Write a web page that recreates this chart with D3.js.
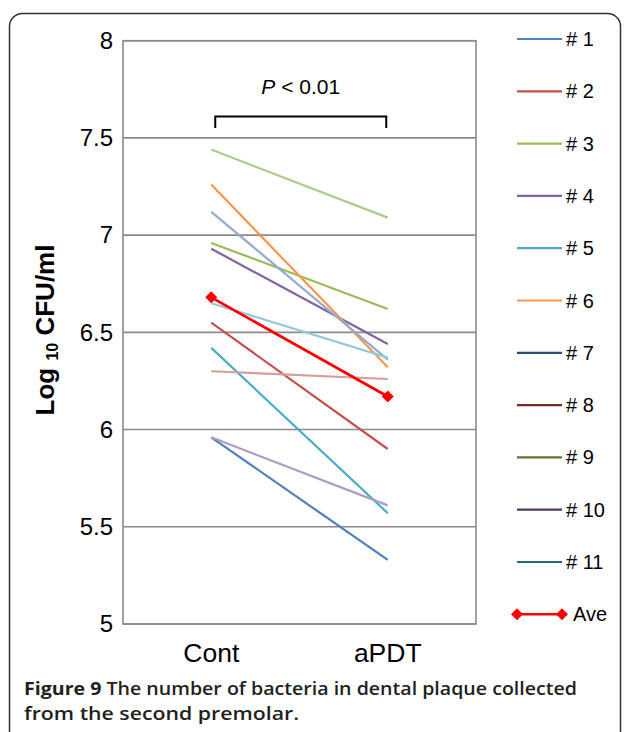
<!DOCTYPE html>
<html>
<head>
<meta charset="utf-8">
<script src="https://cdn.jsdelivr.net/npm/d3@7"></script>
<style>
  html, body { margin: 0; padding: 0; background: #fff; }
  svg { display: block; }
</style>
</head>
<body>
<svg id="chart" width="629" height="732"></svg>
<script>
// ---------- data ----------
const categories = ["Cont", "aPDT"];
const seriesNames = ["# 1", "# 2", "# 3", "# 4", "# 5", "# 6", "# 7", "# 8", "# 9", "# 10", "# 11"];
const contValues = [5.96, 6.55, 6.96, 6.93, 6.42, 7.26, 7.12, 6.30, 7.44, 5.96, 6.65];
const apdtValues = [5.33, 5.90, 6.62, 6.44, 5.57, 6.32, 6.36, 6.26, 7.09, 5.61, 6.37];
const aveName = "Ave";
const aveValues = [6.68, 6.17];
const yTicks = [5, 5.5, 6, 6.5, 7, 7.5, 8];
const yTickLabels = ["5", "5.5", "6", "6.5", "7", "7.5", "8"];
const lineColors = ["#4F81BD", "#C0504D", "#9BBB59", "#8064A2", "#4BACC6", "#F79646",
                    "#93ABD3", "#D79D9C", "#AECB8C", "#AA9EC3", "#93C9DB"];
const legendColors = ["#4F81BD", "#C0504D", "#9BBB59", "#8064A2", "#4BACC6", "#F79646",
                      "#2C4D75", "#772C2A", "#5F7530", "#4D3B62", "#276A7C"];
const aveColor = "#FF0000";
const pText = " < 0.01";
const captionBold = "Figure 9";
const captionLine1 = " The number of bacteria in dental plaque collected";
const captionLine2 = "from the second premolar.";

// ---------- layout ----------
const svg = d3.select("#chart");
const plot = { left: 123, right: 476, top: 40.7, bottom: 624 };
const x = d3.scaleBand().domain(categories).range([plot.left, plot.right]);
const xc = c => x(c) + x.bandwidth() / 2;
const y = d3.scaleLinear().domain([5, 8]).range([plot.bottom, plot.top]);
const FONT = "'Liberation Sans', Arial, sans-serif";

// outer rounded frame
svg.append("rect")
  .attr("x", 9.5).attr("y", 13.5)
  .attr("width", 611).attr("height", 740)
  .attr("rx", 13).attr("ry", 13)
  .attr("fill", "none").attr("stroke", "#333").attr("stroke-width", 1.5);

// gridlines
svg.append("g").selectAll("line").data(yTicks).join("line")
  .attr("x1", plot.left).attr("x2", plot.right)
  .attr("y1", d => y(d)).attr("y2", d => y(d))
  .attr("stroke", "#8a8a8a").attr("stroke-width", 1.6);
// plot border
svg.append("rect")
  .attr("x", plot.left).attr("y", y(8))
  .attr("width", plot.right - plot.left).attr("height", y(5) - y(8))
  .attr("fill", "none").attr("stroke", "#8a8a8a").attr("stroke-width", 1.6);

// y axis labels
const yAxis = d3.axisLeft(y).tickValues(yTicks)
  .tickFormat((d, i) => yTickLabels[i]).tickSize(0).tickPadding(10);
const gy = svg.append("g").attr("transform", `translate(${plot.left},0)`).call(yAxis);
gy.select(".domain").remove();
gy.selectAll("text").attr("font-family", FONT).attr("font-size", 24).attr("fill", "#000");

// x axis labels
const xAxis = d3.axisBottom(x).tickSize(0).tickPadding(19);
const gx = svg.append("g").attr("transform", `translate(0,${plot.bottom})`).call(xAxis);
gx.select(".domain").remove();
gx.selectAll("text").attr("font-family", FONT).attr("font-size", 26.5).attr("fill", "#000");

// y title
const yt = svg.append("text")
  .attr("transform", "translate(54,330) rotate(-90)")
  .attr("text-anchor", "middle")
  .attr("font-family", FONT).attr("font-weight", "bold").attr("font-size", 26);
yt.append("tspan").text("Log ");
yt.append("tspan").attr("font-size", 16).attr("dy", 4).text("10");
yt.append("tspan").attr("dy", -4).text(" CFU/ml");

// lines
const line = d3.line().x(d => xc(d.c)).y(d => y(d.v));
const series = seriesNames.map((n, i) => ({
  name: n, color: lineColors[i],
  pts: [{ c: categories[0], v: contValues[i] }, { c: categories[1], v: apdtValues[i] }]
}));
svg.append("g").selectAll("path").data(series).join("path")
  .attr("d", d => line(d.pts))
  .attr("fill", "none").attr("stroke", d => d.color).attr("stroke-width", 2.2);

const avePts = categories.map((c, i) => ({ c, v: aveValues[i] }));
svg.append("path").attr("d", line(avePts))
  .attr("fill", "none").attr("stroke", aveColor).attr("stroke-width", 2.8);
const diamond = d3.symbol().type(d3.symbolSquare).size(72);
svg.append("g").selectAll("path").data(avePts).join("path")
  .attr("d", diamond)
  .attr("transform", d => `translate(${xc(d.c)},${y(d.v)}) rotate(45)`)
  .attr("fill", aveColor);

// significance bracket
const bx1 = xc(categories[0]) + 4, bx2 = xc(categories[1]) - 1.5;
svg.append("path")
  .attr("d", `M${bx1},128 V116.5 H${bx2} V128`)
  .attr("fill", "none").attr("stroke", "#000").attr("stroke-width", 2);
const pt = svg.append("text")
  .attr("x", (bx1 + bx2) / 2).attr("y", 94)
  .attr("text-anchor", "middle")
  .attr("font-family", FONT).attr("font-size", 21);
pt.append("tspan").attr("font-style", "italic").text("P");
pt.append("tspan").text(pText);

// legend
const legY0 = 39, legStep = 52.3;
const leg = svg.append("g");
seriesNames.forEach((n, i) => {
  const yy = legY0 + i * legStep;
  leg.append("line").attr("x1", 517).attr("x2", 562).attr("y1", yy).attr("y2", yy)
    .attr("stroke", legendColors[i]).attr("stroke-width", 2.2);
  leg.append("text").attr("x", 566).attr("y", yy + 7)
    .attr("font-family", FONT).attr("font-size", 20).text(n);
});
{
  const yy = legY0 + seriesNames.length * legStep;
  leg.append("line").attr("x1", 517).attr("x2", 562).attr("y1", yy).attr("y2", yy)
    .attr("stroke", aveColor).attr("stroke-width", 2.5);
  [517, 562].forEach(xx => leg.append("path").attr("d", diamond)
    .attr("transform", `translate(${xx},${yy}) rotate(45)`).attr("fill", aveColor));
  leg.append("text").attr("x", 573).attr("y", yy + 7)
    .attr("font-family", FONT).attr("font-size", 20).text(aveName);
}

// caption
const cap = svg.append("g").attr("font-family", "'Open Sans', 'Noto Sans', sans-serif").attr("fill", "#231F20");
const c1 = cap.append("text").attr("x", 24).attr("y", 695).attr("font-size", 17.5)
  .attr("textLength", 553).attr("lengthAdjust", "spacingAndGlyphs");
c1.append("tspan").attr("font-weight", 700).text(captionBold);
c1.append("tspan").attr("font-weight", 600).text(captionLine1);
cap.append("text").attr("x", 24).attr("y", 719.5).attr("font-size", 17.5).attr("font-weight", 600)
  .attr("textLength", 275).attr("lengthAdjust", "spacingAndGlyphs").text(captionLine2);
</script>
</body>
</html>
